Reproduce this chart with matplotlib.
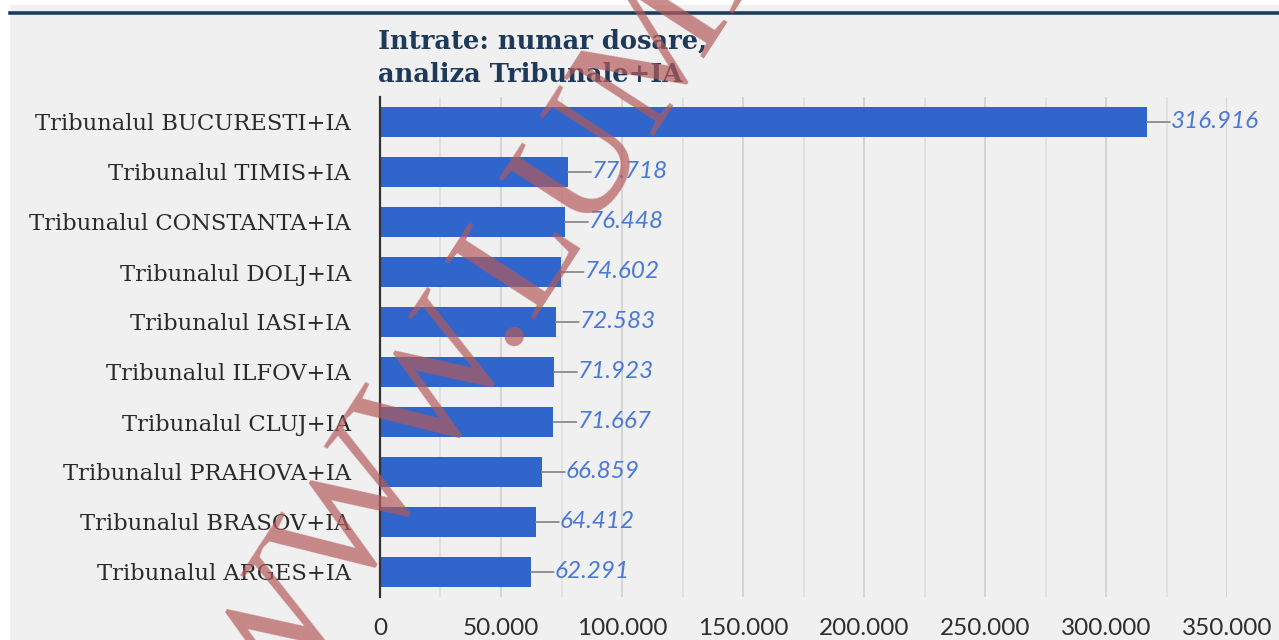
import matplotlib
matplotlib.use("Agg")
import matplotlib.pyplot as plt
from matplotlib.patches import Rectangle
from matplotlib.lines import Line2D

categories = ["Tribunalul BUCURESTI+IA", "Tribunalul TIMIS+IA", "Tribunalul CONSTANTA+IA",
              "Tribunalul DOLJ+IA", "Tribunalul IASI+IA", "Tribunalul ILFOV+IA",
              "Tribunalul CLUJ+IA", "Tribunalul PRAHOVA+IA", "Tribunalul BRASOV+IA",
              "Tribunalul ARGES+IA"]
values = [316916, 77718, 76448, 74602, 72583, 71923, 71667, 66859, 64412, 62291]
xticks = [0, 50000, 100000, 150000, 200000, 250000, 300000, 350000]
title = "Intrate: numar dosare,\nanaliza Tribunale+IA"
watermark = "WWW.LUMEA"

def fmt(v):
    return f"{v:,}".replace(",", ".")

W, H = 1279, 640
fig = plt.figure(figsize=(W / 100, H / 100), dpi=100)
fig.patch.set_facecolor("white")
fig.add_artist(Rectangle((10 / W, 0), 1 - 10 / W, 1 - 5 / H, transform=fig.transFigure,
                         facecolor="#f0f0f0", edgecolor="none", zorder=-10))
fig.add_artist(Line2D([10 / W, 1], [1 - 12.5 / H, 1 - 12.5 / H], transform=fig.transFigure,
                      color="#1d3d5e", lw=2.6, zorder=5))

ax = fig.add_axes([380 / W, 1 - 597 / H, 847 / W, 500 / H])
ax.set_facecolor("none")
ax.set_xlim(0, 350000)
ax.set_ylim(len(values) - 0.5, -0.5)

for g in range(25000, 350001, 25000):
    ax.axvline(g, color="#d0d0d0" if g % 50000 == 0 else "#dedede", lw=1.2, zorder=0)

y = list(range(len(values)))
ax.barh(y, values, height=0.6, color="#3065cc", zorder=2)

for yi, v in zip(y, values):
    ax.annotate("", xy=(v, yi), xytext=(23, 0), textcoords="offset pixels",
                arrowprops=dict(arrowstyle="-", color="#8a8a8a", lw=1.3, shrinkA=0, shrinkB=0),
                zorder=3)
    ax.annotate(fmt(v), xy=(v, yi), xytext=(24, 0), textcoords="offset pixels",
                ha="left", va="center", fontsize=17.5, style="italic", color="#4a78d6",
                family="Lato", zorder=3)

ax.set_yticks(y)
ax.set_yticklabels(categories, family="DejaVu Serif", fontsize=16.3, color="#2a2a2a")
ax.set_xticks(xticks)
ax.set_xticklabels([fmt(t) for t in xticks], family="Lato", fontsize=17.5, color="#2e2e2e")
ax.tick_params(axis="y", length=0, pad=21)
ax.tick_params(axis="x", length=0, pad=15)
for s in ["top", "right", "bottom"]:
    ax.spines[s].set_visible(False)
ax.spines["left"].set_color("#333333")
ax.spines["left"].set_linewidth(1.6)
ax.spines["left"].set_zorder(4)

fig.text(378 / W, 1 - 29 / H, title, ha="left", va="top", family="DejaVu Serif",
         fontweight="bold", fontsize=18.5, color="#1e3a5a", linespacing=1.4)

fig.text(525 / W, 1 - 262 / H, watermark, rotation=57, ha="center", va="center",
         family="Liberation Serif", fontsize=118, color="#b45a5a", alpha=0.7, zorder=20)

fig.savefig("out.png", dpi=100, facecolor=fig.get_facecolor())
